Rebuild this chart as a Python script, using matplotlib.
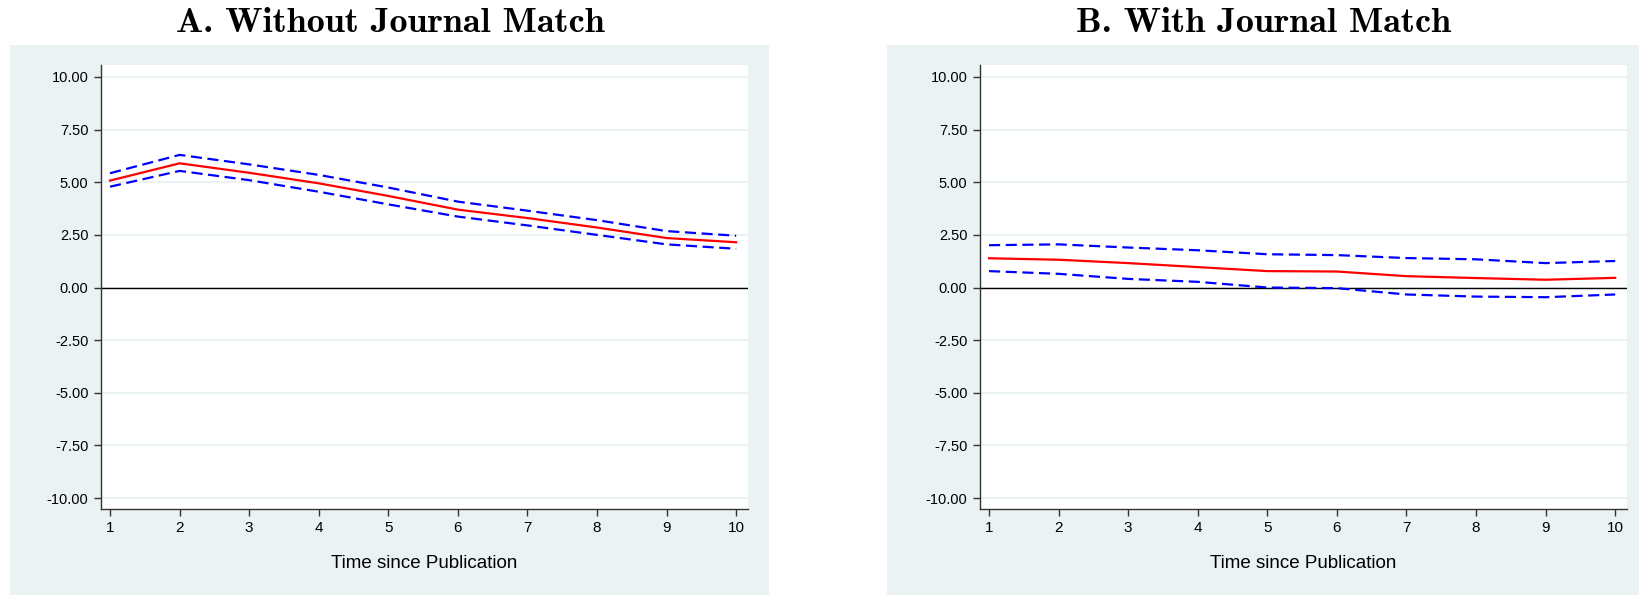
import numpy as np
import matplotlib
matplotlib.use("Agg")
import matplotlib.pyplot as plt
from matplotlib.patches import Rectangle

# years since publication
years = np.arange(1, 11)

# panel A: without journal match
est_a = [5.08, 5.90, 5.45, 4.95, 4.35, 3.70, 3.30, 2.85, 2.35, 2.15]
hi_a = [5.43, 6.30, 5.85, 5.35, 4.75, 4.08, 3.65, 3.20, 2.68, 2.46]
lo_a = [4.79, 5.54, 5.10, 4.55, 3.95, 3.37, 2.95, 2.50, 2.05, 1.84]

# panel B: with journal match
est_b = [1.39, 1.32, 1.16, 0.97, 0.78, 0.76, 0.54, 0.45, 0.37, 0.46]
hi_b = [2.01, 2.05, 1.90, 1.77, 1.58, 1.54, 1.40, 1.34, 1.16, 1.26]
lo_b = [0.78, 0.65, 0.41, 0.27, 0.00, -0.03, -0.33, -0.43, -0.46, -0.33]

titles = ["A. Without Journal Match", "B. With Journal Match"]
yticks = np.arange(-10, 10.01, 2.5)

bg = "#eaf2f3"
W, H = 1640, 595
fig = plt.figure(figsize=(W / 100, H / 100), dpi=100)

def fx(px):
    return px / W

def fy(py):
    return 1 - py / H

tick_font = ["Liberation Sans Narrow", "Liberation Sans", "DejaVu Sans"]

panels = [
    (10, 769, 101, est_a, hi_a, lo_a),
    (887, 1640, 980, est_b, hi_b, lo_b),
]

for i, (bx0, bx1, ax0, est, hi, lo) in enumerate(panels):
    # shaded panel background
    fig.patches.append(Rectangle((fx(bx0), 0), fx(bx1 - bx0), fy(45),
                                 transform=fig.transFigure, facecolor=bg,
                                 edgecolor="none", zorder=-10))
    ax = fig.add_axes([fx(ax0), fy(509), fx(647), (509 - 65) / H])
    ax.set_zorder(5)
    ax.set_facecolor("white")
    for y in yticks:
        ax.axhline(y, color=bg, lw=1.5, zorder=1)
    ax.axhline(0, color="black", lw=1.0, zorder=2)
    ax.plot(years, hi, color="#0000ff", lw=1.6, dashes=(5, 2.5), zorder=3)
    ax.plot(years, lo, color="#0000ff", lw=1.6, dashes=(5, 2.5), zorder=3)
    ax.plot(years, est, color="#ff0000", lw=1.6, zorder=4)

    ax.set_xlim(0.87, 10.17)
    ax.set_ylim(-10.52, 10.57)
    ax.set_xticks(years)
    ax.set_yticks(yticks)
    ax.set_yticklabels([f"{v:.2f}" for v in yticks], family=tick_font, fontsize=10.5)
    ax.set_xticklabels([str(v) for v in years], family=tick_font, fontsize=11)
    ax.tick_params(direction="out", length=5, width=1, color="#333333", pad=4)
    for s in ["top", "right"]:
        ax.spines[s].set_visible(False)
    for s in ["left", "bottom"]:
        ax.spines[s].set_color("#333333")
        ax.spines[s].set_linewidth(1.0)
    ax.set_xlabel("Time since Publication", family=tick_font, fontsize=13.5, labelpad=14)

    cx = (bx0 + bx1) / 2 if i == 1 else 390
    fig.text(fx(cx), fy(23), titles[i], ha="center", va="center",
             family="cmb10", fontsize=26)

fig.savefig("out.png", dpi=100, facecolor="white")
